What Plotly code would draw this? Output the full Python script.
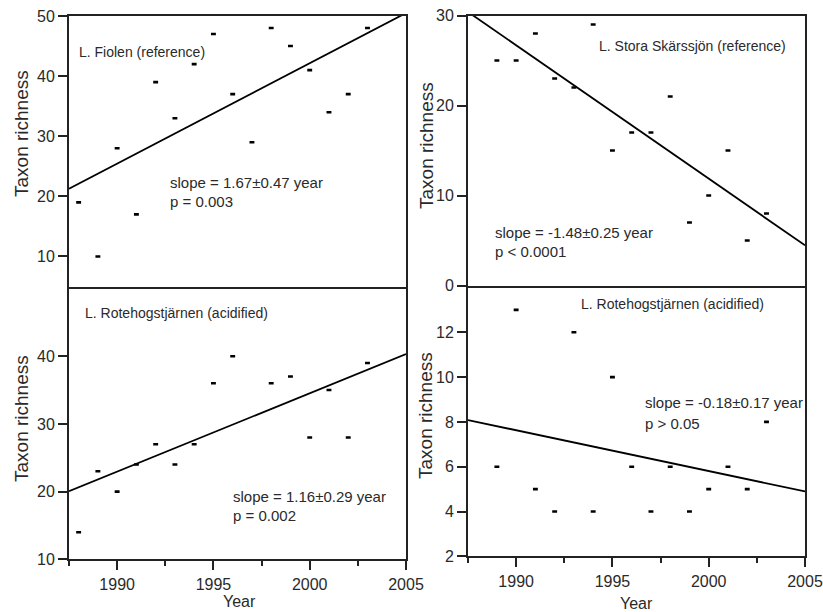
import numpy as np
import plotly.graph_objects as go

# ---------------- data ----------------
years_tl = [1988, 1989, 1990, 1991, 1992, 1993, 1994, 1995, 1996, 1997, 1998, 1999, 2000, 2001, 2002, 2003]
rich_tl = [19, 10, 28, 17, 39, 33, 42, 47, 37, 29, 48, 45, 41, 34, 37, 48]

years_tr = [1989, 1990, 1991, 1992, 1993, 1994, 1995, 1996, 1997, 1998, 1999, 2000, 2001, 2002, 2003]
rich_tr = [25, 25, 28, 23, 22, 29, 15, 17, 17, 21, 7, 10, 15, 5, 8]

years_bl = [1988, 1989, 1990, 1991, 1992, 1993, 1994, 1995, 1996, 1998, 1999, 2000, 2001, 2002, 2003]
rich_bl = [14, 23, 20, 24, 27, 24, 27, 36, 40, 36, 37, 28, 35, 28, 39]

years_br = [1989, 1990, 1991, 1992, 1993, 1994, 1995, 1996, 1997, 1998, 1999, 2000, 2001, 2002, 2003]
rich_br = [6, 13, 5, 4, 12, 4, 10, 6, 4, 6, 4, 5, 6, 5, 8]

titles = ["L. Fiolen (reference)", "L. Stora Skärssjön (reference)",
          "L. Rotehogstjärnen (acidified)", "L. Rotehogstjärnen (acidified)"]
stats = [("slope = 1.67±0.47 year", "p = 0.003"),
         ("slope = -1.48±0.25 year", "p < 0.0001"),
         ("slope = 1.16±0.29 year", "p = 0.002"),
         ("slope = -0.18±0.17 year", "p > 0.05")]

x_range = [1987.5, 2005]
y_ranges = [[5, 50], [0, 30], [10, 50], [2, 14]]
y_ticks = [[10, 20, 30, 40, 50], [0, 10, 20, 30], [10, 20, 30, 40], [2, 4, 6, 8, 10, 12]]

# ---------------- layout helpers ----------------
W, H = 823, 612
def px(x):
    return x / W
def py(y):
    return 1 - y / H

FONT = "Liberation Sans, Arial, sans-serif"
INK = "#222222"
TXT = "#2a2a2a"

# panel pixel boxes: (left, right, top, bottom)
boxes = [(69, 406, 16, 286.5), (468, 805, 15.5, 285.5),
         (69, 406, 288.5, 559.3), (468, 805, 287.5, 556.3)]

datasets = [(years_tl, rich_tl), (years_tr, rich_tr), (years_bl, rich_bl), (years_br, rich_br)]

fig = go.Figure()
layout = dict(width=W, height=H, margin=dict(l=0, r=0, t=0, b=0, autoexpand=False),
              paper_bgcolor="white", plot_bgcolor="white", template="none",
              showlegend=False, font=dict(family=FONT, color=TXT), hovermode=False)

for i, ((yrs, vals), box) in enumerate(zip(datasets, boxes)):
    n = "" if i == 0 else str(i + 1)
    xa, ya = "x" + n, "y" + n
    fig.add_trace(go.Scatter(x=yrs, y=vals, mode="markers", xaxis=xa, yaxis=ya,
                             marker=dict(symbol="line-ew", size=3.5,
                                         line=dict(width=2.6, color="black"))))
    coef = np.polyfit(yrs, vals, 1)
    fx = np.array(x_range)
    fig.add_trace(go.Scatter(x=fx, y=np.polyval(coef, fx), mode="lines", xaxis=xa, yaxis=ya,
                             line=dict(color="black", width=1.8)))
    l, r, t, b = box
    bottom_row = i >= 2
    xaxis = dict(domain=[px(l), px(r)], range=x_range, anchor=ya, automargin=False,
                 showline=True, linewidth=2, linecolor=INK, mirror=True,
                 showgrid=False, zeroline=False, fixedrange=True)
    if bottom_row:
        xaxis.update(ticks="outside", ticklen=9, tickwidth=2, tickcolor=INK,
                     tick0=1990, dtick=5, showticklabels=True,
                     tickfont=dict(size=16, color=TXT, family=FONT),
                     minor=dict(ticks="outside", ticklen=5, tickwidth=2, tickcolor=INK,
                                tick0=1987.5, dtick=2.5, showgrid=False))
    else:
        xaxis.update(ticks="", showticklabels=False)
    yaxis = dict(domain=[py(b), py(t)], range=y_ranges[i], anchor=xa, automargin=False,
                 showline=True, linewidth=2, linecolor=INK, mirror=True,
                 showgrid=False, zeroline=False, fixedrange=True,
                 ticks="outside", ticklen=9, tickwidth=2, tickcolor=INK,
                 tickvals=y_ticks[i], ticktext=[str(v) for v in y_ticks[i]],
                 tickfont=dict(size=16, color=TXT, family=FONT))
    layout["xaxis" + n] = xaxis
    layout["yaxis" + n] = yaxis

annotations = []
def txt(x, y, s, size=14, anchor="left", angle=0):
    annotations.append(dict(x=px(x), y=py(y), xref="paper", yref="paper", text=s,
                            showarrow=False, xanchor=anchor, yanchor="middle",
                            textangle=angle, font=dict(size=size, color=TXT, family=FONT)))

# panel names
txt(76.5, 51.5, titles[0])
txt(596.5, 46.5, titles[1])
txt(82.5, 312.5, titles[2])
txt(578.5, 304, titles[3])

# stats
stat_pos = [(167.5, 182.5, 201.5), (493, 232.5, 251), (230.5, 496, 515), (642.5, 402.5, 423)]
for (s1, s2), (x, y1, y2) in zip(stats, stat_pos):
    txt(x, y1, s1, size=15)
    txt(x, y2, s2, size=15)

# axis titles
txt(21, 134, "Taxon richness", size=19, anchor="center", angle=-90)
txt(21, 419, "Taxon richness", size=19, anchor="center", angle=-90)
txt(426, 146, "Taxon richness", size=19, anchor="center", angle=-90)
txt(425, 416, "Taxon richness", size=19, anchor="center", angle=-90)
txt(240, 601.5, "Year", size=16, anchor="center")
txt(636.5, 603, "Year", size=16, anchor="center")

layout["annotations"] = annotations
fig.update_layout(**layout)
fig.write_html("out.html")
